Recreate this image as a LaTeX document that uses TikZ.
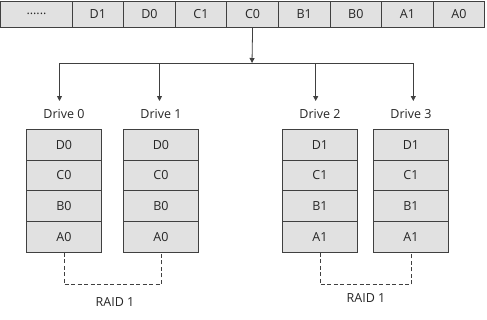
\documentclass[tikz,border=0pt]{standalone}
\usepackage{fontspec}
\setmainfont{Open Sans}
\usetikzlibrary{arrows.meta}
\definecolor{cellfill}{HTML}{E1E1E1}
\definecolor{linec}{HTML}{404040}
\definecolor{txt}{HTML}{262626}
\begin{document}
\begin{tikzpicture}[x=1pt,y=-1pt,
  cell/.style={draw=linec,fill=cellfill,line width=0.9pt,minimum height=26pt,inner sep=0pt,font=\fontsize{12.5}{14}\selectfont,text=txt},
  dcell/.style={draw=linec,fill=cellfill,line width=0.9pt,minimum width=75pt,minimum height=30.75pt,inner sep=0pt,font=\fontsize{12.5}{14}\selectfont,text=txt},
  lbl/.style={font=\fontsize{12.5}{14}\selectfont,text=txt,inner sep=0pt},
  conn/.style={draw=linec,line width=0.8pt},
  arr/.style={conn,-{Triangle[length=5pt,width=5pt]}},
  dashline/.style={conn,dash pattern=on 4pt off 2.5pt}
]
\useasboundingbox (0,0) rectangle (487,319);
% top bar
\node[cell,minimum width=71.5pt] (t0) at (36.5,14) {......};
\foreach \t [count=\i] in {D1,D0,C1,C0,B1,B0,A1,A0}{
  \pgfmathsetmacro{\xc}{72+51.6*(\i-1)+25.8}
  \node[cell,minimum width=51.6pt] (t\i) at (\xc,14) {\t};
}
% drives
\newcommand{\drive}[5]{%
  \foreach \t [count=\j] in {#3}{
    \pgfmathsetmacro{\yc}{129.3+30.75*(\j-1)+15.375}
    \node[dcell] (#1r\j) at (#2,\yc) {\t};
  }
  \node[lbl] (#1lab) at (#2,114) {#4};
}
\drive{da}{64}{D0,C0,B0,A0}{Drive 0}{}
\drive{db}{161}{D0,C0,B0,A0}{Drive 1}{}
\drive{dc}{320}{D1,C1,B1,A1}{Drive 2}{}
\drive{dd}{411}{D1,C1,B1,A1}{Drive 3}{}
% connectors
\coordinate (hub) at (252,63);
\coordinate (h0) at (59.5,63);
\coordinate (h1) at (159.5,63);
\coordinate (h2) at (315.7,63);
\coordinate (h3) at (413.3,63);
\draw[arr] (t4.south) -- (hub);
\draw[conn] (h0) -- (h3);
\draw[arr] (h0) -- (59.5,101);
\draw[arr] (h1) -- (159.5,101);
\draw[arr] (h2) -- (315.7,101);
\draw[arr] (h3) -- (413.3,101);
% RAID dashed
\draw[dashline] (dar4.south) -- ++(0,32) -| (dbr4.south);
\draw[dashline] (dcr4.south) -- ++(0,32) -| (ddr4.south);
\node[lbl] (raid1) at (115,302) {RAID 1};
\node[lbl] (raid2) at (366,298) {RAID 1};
\end{tikzpicture}
\end{document}
